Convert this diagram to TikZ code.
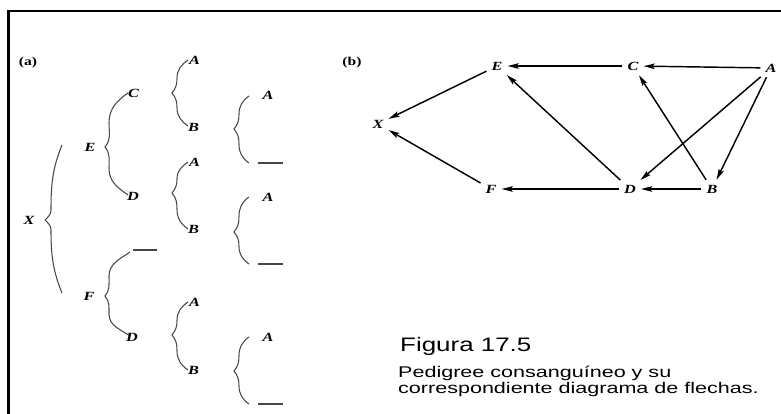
\documentclass[tikz,border=0pt]{standalone}
\usepackage{fontspec}
\setmainfont{Liberation Serif}
\newfontfamily\capfont{Liberation Sans}
\usetikzlibrary{arrows.meta}
\newcommand\sxw[1]{\scalebox{1.3}[1]{#1}}
\tikzset{
  brc/.style={draw=black!72, line width=1.05pt},
  lbl/.style={font=\fontsize{12.5}{12.5}\selectfont\bfseries\itshape, inner sep=0pt},
  gn/.style={font=\fontsize{12.5}{12.5}\selectfont\bfseries\itshape, inner sep=4pt},
  arr/.style={draw=black, line width=1.45pt, -{Stealth[length=11pt,width=5.5pt,inset=2pt]}, shorten >=1pt, shorten <=1pt},
  tag/.style={font=\fontsize{12}{12}\selectfont\bfseries, inner sep=0pt},
  frame/.style={line width=2.5pt, draw=black},
  capt/.style={inner sep=0pt, anchor=base west}
}
% brace: xr, ytop, ybot, xbody, xtip, ymid
\newcommand\curlyb[6]{%
  \draw[brc] (#1,#2) to[out=-145,in=90] (#4,{#2+(#6-#2)*0.55})
    to[out=-90,in=50] (#5,#6) to[out=-50,in=90] (#4,{#6+(#3-#6)*0.45})
    to[out=-90,in=145] (#1,#3);}
\begin{document}
\begin{tikzpicture}[x=1pt,y=-1pt]
\useasboundingbox (0,0) rectangle (781,414);
\fill[white] (0,0) rectangle (781,414);
% frame
\draw[frame] (8.7,414) -- (8.7,11) -- (781,11);

% ---------- (a) ----------
\node[tag] (ta) at (28,63) {\sxw{(a)}};
% X brace
\draw[brc] (62,145) to[out=-112,in=90] (51,210) to[out=-90,in=45] (45,220)
  to[out=-45,in=90] (51,230) to[out=-90,in=112] (62,293);
\node[lbl] (x) at (29,220) {\sxw{X}};
% E brace
\curlyb{128}{93}{195}{109}{105}{147}
\node[lbl] (e) at (90,147) {\sxw{E}};
\node[lbl,anchor=west] (c1) at (128,93) {\sxw{C}};
\node[lbl,anchor=west] (d1) at (127,196) {\sxw{D}};
% F brace
\curlyb{130}{252}{336}{109}{105}{296}
\node[lbl] (f) at (89,296) {\sxw{F}};
\coordinate (fl1) at (133,250);
\coordinate (fl2) at (157,250);
\draw[brc] (fl1) -- (fl2);
\node[lbl,anchor=west] (d2) at (126,337) {\sxw{D}};
% column 3
\curlyb{188}{60}{126}{177}{172}{93}
\node[lbl,anchor=west] (a1) at (189,60) {\sxw{A}};
\node[lbl,anchor=west] (b1) at (188,127) {\sxw{B}};
\curlyb{188}{162}{229}{177}{172}{193}
\node[lbl,anchor=west] (a2) at (189,162) {\sxw{A}};
\node[lbl,anchor=west] (b2) at (188,229) {\sxw{B}};
\curlyb{188}{302}{370}{177}{172}{335}
\node[lbl,anchor=west] (a3) at (189,302) {\sxw{A}};
\node[lbl,anchor=west] (b3) at (188,370) {\sxw{B}};
% column 4
\curlyb{249}{96}{163}{239}{234}{129}
\node[lbl] (a4) at (268,95) {\sxw{A}};
\coordinate (l1a) at (258,163); \coordinate (l1b) at (283,163);
\draw[brc] (l1a) -- (l1b);
\curlyb{249}{197}{264}{239}{234}{232}
\node[lbl] (a5) at (268,197) {\sxw{A}};
\coordinate (l2a) at (258,264); \coordinate (l2b) at (283,264);
\draw[brc] (l2a) -- (l2b);
\curlyb{249}{337}{404}{239}{234}{371}
\node[lbl] (a6) at (268,337) {\sxw{A}};
\coordinate (l3a) at (258,404); \coordinate (l3b) at (283,404);
\draw[brc] (l3a) -- (l3b);

% ---------- (b) ----------
\node[tag] (tb) at (352,63) {\sxw{(b)}};
\node[gn] (E) at (497,66) {\sxw{E}};
\node[gn] (C) at (633,66) {\sxw{C}};
\node[gn] (A) at (771,68) {\sxw{A}};
\node[gn] (X) at (378,124) {\sxw{X}};
\node[gn] (F) at (491,189) {\sxw{F}};
\node[gn] (D) at (630,189) {\sxw{D}};
\node[gn] (B) at (712,189) {\sxw{B}};
\draw[arr] (A) -- (C);
\draw[arr] (C) -- (E);
\draw[arr] (E) -- (X);
\draw[arr] (F) -- (X);
\draw[arr] (D) -- (F);
\draw[arr] (B) -- (D);
\draw[arr] (D) -- (E);
\draw[arr] (B) -- (C);
\draw[arr] (A) -- (D);
\draw[arr] (A) -- (B);

% caption
\node[capt, font=\capfont\fontsize{19.5}{19.5}\selectfont] (cap1) at (400,351) {\scalebox{1.33}[1]{Figura 17.5}};
\node[capt, font=\capfont\fontsize{15.5}{15.5}\selectfont] (cap2) at (398,377) {\scalebox{1.39}[1]{Pedigree consanguíneo y su}};
\node[capt, font=\capfont\fontsize{15.5}{15.5}\selectfont] (cap3) at (398,393) {\scalebox{1.39}[1]{correspondiente diagrama de flechas.}};
\end{tikzpicture}
\end{document}
